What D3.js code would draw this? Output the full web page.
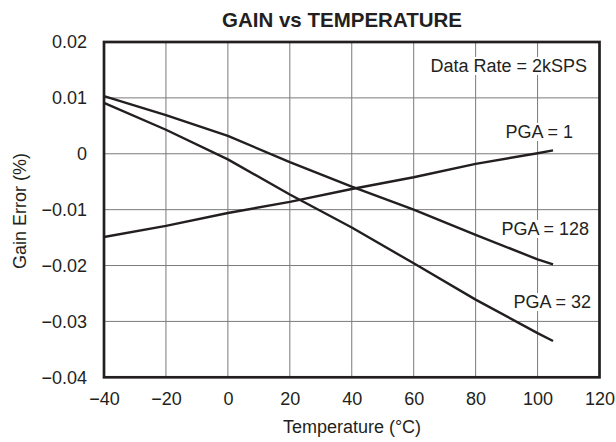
<!DOCTYPE html>
<html lang="en">
<head>
<meta charset="UTF-8">
<title>Gain vs Temperature</title>
<script src="https://d3js.org/d3.v7.min.js"></script>
<style>
    body { margin: 0; background: #fff; }
    svg text { font-family: "Liberation Sans", Arial, Helvetica, sans-serif; fill: #231f20; }
</style>
</head>
<body>
<svg id="chart" width="616" height="442"></svg>
<script>
    // values
    const temps = [-40, -20, 0, 20, 40, 60, 80, 100, 105];
    const pga1 = [-0.0149, -0.0129, -0.0106, -0.0086, -0.0063, -0.0042, -0.0018, 0.0001, 0.0006];
    const pga128 = [0.0103, 0.0069, 0.0032, -0.0015, -0.0059, -0.0100, -0.0145, -0.0189, -0.0198];
    const pga32 = [0.0091, 0.0043, -0.0010, -0.0073, -0.0132, -0.0196, -0.0261, -0.0321, -0.0335];

    const xTicks = [-40, -20, 0, 20, 40, 60, 80, 100, 120];
    const yTicks = [-0.04, -0.03, -0.02, -0.01, 0, 0.01, 0.02];
    const yTickLabels = ["\u22120.04", "\u22120.03", "\u22120.02", "\u22120.01", "0", "0.01", "0.02"];

    const svg = d3.select("#chart");
    const pLeft = 104, pRight = 599.5, pTop = 42, pBottom = 377.3;
    const ink = "#231f20";
    const fs = "18px";

    const x = d3.scaleLinear().domain([-40, 120]).range([pLeft, pRight]);
    const y = d3.scaleLinear().domain([-0.04, 0.02]).range([pBottom, pTop]);

    // grid
    svg.append("g").selectAll("line")
        .data(xTicks.slice(1, -1))
        .join("line")
        .attr("x1", d => x(d)).attr("x2", d => x(d))
        .attr("y1", pTop).attr("y2", pBottom)
        .attr("stroke", "#7a7a7a").attr("stroke-width", 1);
    svg.append("g").selectAll("line")
        .data(yTicks.slice(1, -1))
        .join("line")
        .attr("x1", pLeft).attr("x2", pRight)
        .attr("y1", d => y(d)).attr("y2", d => y(d))
        .attr("stroke", "#7a7a7a").attr("stroke-width", 1);

    // axes (labels only)
    const xAxis = svg.append("g")
        .attr("transform", `translate(0,${pBottom})`)
        .call(d3.axisBottom(x).tickValues(xTicks).tickSize(0).tickPadding(15)
            .tickFormat(d => d < 0 ? "\u2212" + Math.abs(d) : d));
    const yAxis = svg.append("g")
        .attr("transform", `translate(${pLeft},0)`)
        .call(d3.axisLeft(y).tickValues(yTicks).tickSize(0).tickPadding(17)
            .tickFormat((d, i) => yTickLabels[i]));
    [xAxis, yAxis].forEach(a => {
        a.select(".domain").remove();
        a.selectAll("text").style("font-size", fs).attr("fill", ink);
    });

    // curves
    const line = d3.line().x(d => x(d[0])).y(d => y(d[1]));
    [pga1, pga128, pga32].forEach(s => {
        svg.append("path")
            .datum(temps.map((t, i) => [t, s[i]]))
            .attr("d", line)
            .attr("fill", "none")
            .attr("stroke", ink)
            .attr("stroke-width", 2.4)
            .attr("stroke-linejoin", "round");
    });

    // annotations with white boxes over the grid
    const notes = [
        { text: "Data Rate = 2kSPS", x: 587, y: 72 },
        { text: "PGA = 1", x: 573, y: 138 },
        { text: "PGA = 128", x: 589, y: 235 },
        { text: "PGA = 32", x: 591, y: 308 }
    ];
    notes.forEach(n => {
        const t = svg.append("text")
            .attr("x", n.x).attr("y", n.y)
            .attr("text-anchor", "end")
            .style("font-size", fs)
            .text(n.text);
        const b = t.node().getBBox();
        svg.insert("rect", () => t.node())
            .attr("x", b.x - 3).attr("y", b.y + 1)
            .attr("width", b.width + 6).attr("height", b.height - 2)
            .attr("fill", "#fff");
    });

    // frame
    svg.append("rect")
        .attr("x", pLeft).attr("y", pTop)
        .attr("width", pRight - pLeft).attr("height", pBottom - pTop)
        .attr("fill", "none").attr("stroke", ink).attr("stroke-width", 2.7);

    // titles
    svg.append("text")
        .attr("x", 342).attr("y", 27)
        .attr("text-anchor", "middle")
        .style("font-size", "20.5px").style("font-weight", "bold")
        .text("GAIN vs TEMPERATURE");
    svg.append("text")
        .attr("x", 352).attr("y", 433)
        .attr("text-anchor", "middle")
        .style("font-size", fs)
        .text("Temperature (\u00b0C)");
    svg.append("text")
        .attr("transform", "translate(26,211) rotate(-90)")
        .attr("text-anchor", "middle")
        .style("font-size", fs)
        .text("Gain Error (%)");
</script>
</body>
</html>
